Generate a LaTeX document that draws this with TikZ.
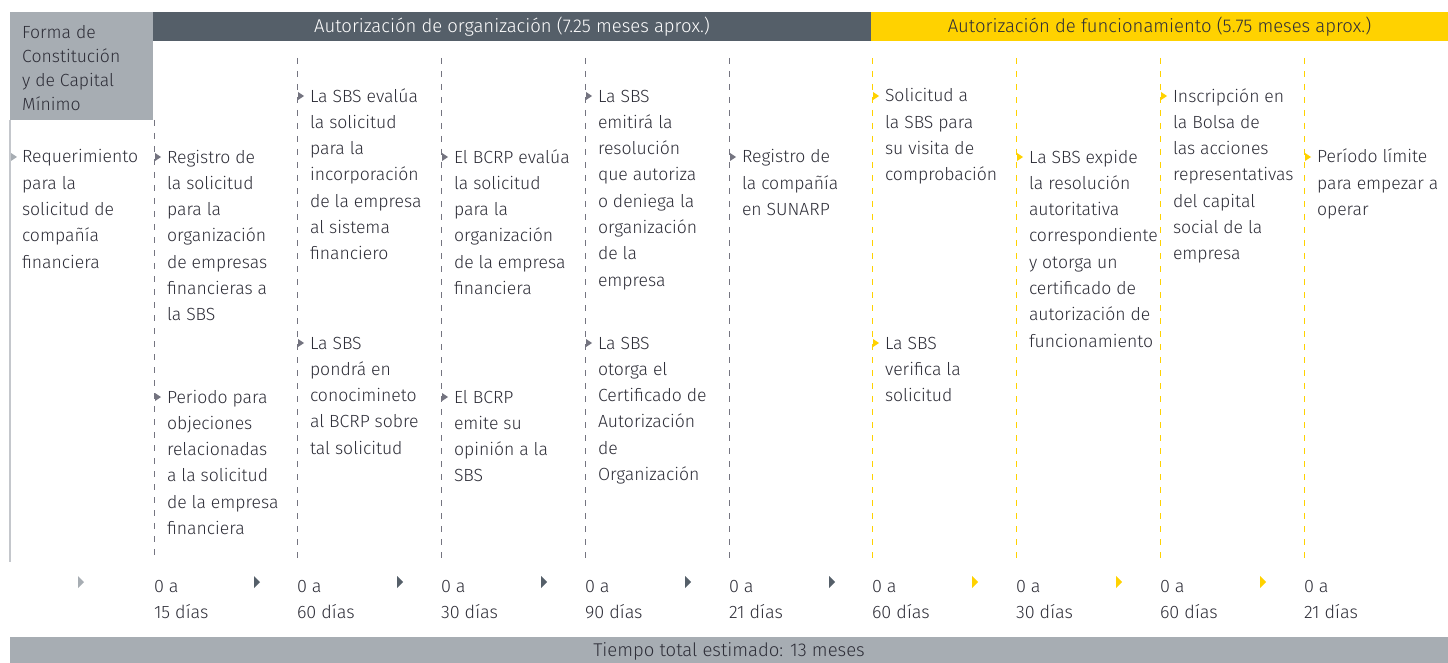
\documentclass[tikz,border=0pt]{standalone}
\usepackage{fontspec}
\setmainfont{Fira Sans}[UprightFont=* Light]
\definecolor{txt}{HTML}{2E2E38}
\definecolor{dark}{HTML}{555F69}
\definecolor{lgrey}{HTML}{A7ADB3}
\definecolor{lline}{HTML}{C4C7CC}
\definecolor{eyy}{HTML}{FFD200}
\definecolor{sepgrey}{HTML}{747480}
\newcommand\st{\rule{0pt}{15pt}}
\tikzset{
  tb/.style={anchor=north west, inner sep=0pt, outer sep=0pt, align=left, text=txt, font=\fontsize{17.6}{26.33}\selectfont},
  hb/.style={inner sep=0pt, font=\fontsize{18.5}{22}\selectfont},
  gsep/.style={draw=sepgrey, line width=1pt, dash pattern=on 6pt off 7pt},
  ysep/.style={draw=eyy, line width=1pt, dash pattern=on 6pt off 7pt},
  pics/tri/.style={code={\fill[#1] (0,-4) -- (6,0) -- (0,4) -- cycle;}},
  pics/btri/.style={code={\fill[#1] (0,-6) -- (6,0) -- (0,6) -- cycle;}},
}
\newcommand\colt[5]{% name, colx, top, color, text
  \node[tb] (#1) at ({#2+13},#3) {\st #5};
  \pic at ({#2+1},{#3+9}) {tri=#4};
}
\begin{document}
\begin{tikzpicture}[x=1pt,y=-1pt]
\useasboundingbox (0,0) rectangle (1448,663);
% headers
\fill[lgrey] (10,12) rectangle (153,120);
\fill[dark] (153,12) rectangle (871,41);
\fill[eyy] (871,12) rectangle (1448,41);
\node[hb, text=white] (h1) at (512,27) {Autorización de organización (7.25 meses aprox.)};
\node[hb, text=txt] (h2) at (1159.5,27) {Autorización de funcionamiento (5.75 meses aprox.)};
\node[anchor=north west, inner sep=0pt, align=left, text=txt, font=\fontsize{17.6}{24.2}\selectfont] (h0) at (22,23) {\st Forma de\\Constitución\\y de Capital\\Mínimo};
% separators
\draw[lline, line width=1.5pt] (10,120) -- (10,562);
\draw[gsep] (154,120) -- (154,562);
\foreach \x in {297,441,585,729} \draw[gsep] (\x,58) -- (\x,562);
\foreach \x in {872,1016,1160,1304} \draw[ysep] (\x,58) -- (\x,562);
% column texts
\node[tb] (c0) at (22,148) {\st Requerimiento\\para la\\solicitud de\\compañía\\financiera};
\pic at (11,157) {tri=lgrey};
\colt{c1a}{154}{148}{sepgrey}{Registro de\\la solicitud\\para la\\organización\\de empresas\\financieras a\\la SBS}
\colt{c1b}{154}{388}{sepgrey}{Periodo para\\objeciones\\relacionadas\\a la solicitud\\de la empresa\\financiera}
\colt{c2a}{297}{87}{sepgrey}{La SBS evalúa\\la solicitud\\para la\\incorporación\\de la empresa\\al sistema\\financiero}
\colt{c2b}{297}{334}{sepgrey}{La SBS\\pondrá en\\conocimineto\\al BCRP sobre\\tal solicitud}
\colt{c3a}{441}{148}{sepgrey}{El BCRP evalúa\\la solicitud\\para la\\organización\\de la empresa\\financiera}
\colt{c3b}{441}{388}{sepgrey}{El BCRP\\emite su\\opinión a la\\SBS}
\colt{c4a}{585}{87}{sepgrey}{La SBS\\emitirá la\\resolución\\que autoriza\\o deniega la\\organización\\de la\\empresa}
\colt{c4b}{585}{334}{sepgrey}{La SBS\\otorga el\\Certificado de\\Autorización\\de\\Organización}
\colt{c5a}{729}{148}{sepgrey}{Registro de\\la compañía\\en SUNARP}
\colt{c6a}{872}{87}{eyy}{Solicitud a\\la SBS para\\su visita de\\comprobación}
\colt{c6b}{872}{334}{eyy}{La SBS\\verifica la\\solicitud}
\colt{c7a}{1016}{148}{eyy}{La SBS expide\\la resolución\\autoritativa\\correspondiente\\y otorga un\\certificado de\\autorización de\\funcionamiento}
\colt{c8a}{1160}{87}{eyy}{Inscripción en\\la Bolsa de\\las acciones\\representativas\\del capital\\social de la\\empresa}
\colt{c9a}{1304}{148}{eyy}{Período límite\\para empezar a\\operar}
% durations
\pic at (78,582) {btri=lgrey};
\foreach \x in {154,297,441,585,729} \pic at (\x+100,582) {btri=dark};
\foreach \x in {872,1016,1160} \pic at (\x+100,582) {btri=eyy};
\foreach \x/\d [count=\i] in {154/15,297/60,441/30,585/90,729/21,872/60,1016/30,1160/60,1304/21}
  \node[tb, font=\fontsize{18}{26.5}\selectfont] (d\i) at (\x,577) {\st 0 a\\\d{} días};
% total bar
\fill[lgrey] (10,637) rectangle (1448,663);
\node[hb, text=txt] (tot) at (729,651) {Tiempo total estimado: 13 meses};
\end{tikzpicture}
\end{document}
